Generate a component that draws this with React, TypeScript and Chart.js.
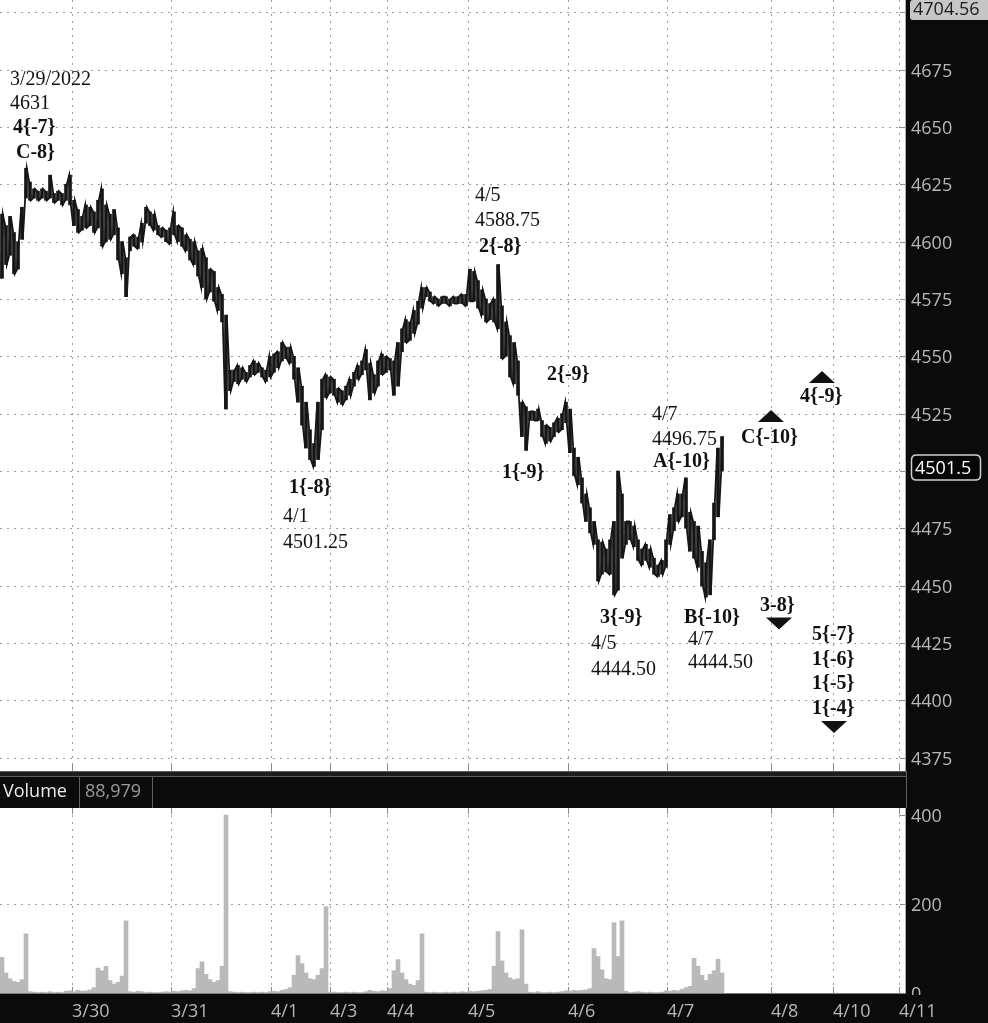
import React, { useEffect, useRef } from 'react';
import { Chart, registerables } from 'chart.js';

Chart.register(...registerables);

// ---- Data (bar index: one slot per sampled bar) ----
const priceHigh = [
  4612, 4607, 4611, 4604, 4600, 4615, 4632, 4626, 4623, 4622,
  4623, 4622, 4629, 4621, 4622, 4621, 4625, 4629, 4618, 4614,
  4611, 4616, 4615, 4613, 4618, 4623, 4616, 4612, 4614, 4606,
  4600, 4593, 4602, 4603, 4602, 4608, 4615, 4613, 4612, 4607,
  4606, 4605, 4606, 4613, 4607, 4606, 4603, 4601, 4600, 4596,
  4597, 4593, 4588, 4587, 4580, 4577, 4568, 4544, 4544, 4546,
  4545, 4543, 4546, 4548, 4547, 4545, 4544, 4550, 4551, 4552,
  4556, 4554, 4554, 4550, 4545, 4537, 4530, 4518, 4512, 4530,
  4540, 4542, 4541, 4540, 4536, 4535, 4537, 4540, 4543, 4546,
  4548, 4553, 4547, 4542, 4548, 4551, 4550, 4549, 4548, 4556,
  4562, 4566, 4565, 4570, 4574, 4580, 4580, 4578, 4576, 4575,
  4576, 4576, 4575, 4576, 4576, 4577, 4577, 4588, 4587, 4583,
  4579, 4575, 4573, 4575, 4590, 4572, 4565, 4559, 4556, 4548,
  4530, 4528, 4526, 4526, 4527, 4522, 4520, 4519, 4521, 4523,
  4525, 4530, 4527, 4510, 4506, 4497, 4490, 4484, 4478, 4470,
  4469, 4466, 4470, 4478, 4500, 4490, 4478, 4478, 4476, 4470,
  4466, 4468, 4466, 4462, 4459, 4461, 4470, 4481, 4484, 4490,
  4490, 4497, 4482, 4478, 4476, 4465, 4460, 4470, 4486, 4510,
  4515,
];

const priceLow = [
  4584, 4590, 4594, 4586, 4588, 4601, 4619, 4618, 4619, 4618,
  4619, 4618, 4619, 4617, 4618, 4616, 4618, 4616, 4607, 4604,
  4605, 4606, 4607, 4604, 4606, 4598, 4600, 4601, 4603, 4592,
  4586, 4576, 4596, 4598, 4597, 4600, 4608, 4607, 4605, 4603,
  4602, 4600, 4599, 4603, 4600, 4598, 4596, 4592, 4590, 4585,
  4580, 4575, 4578, 4574, 4570, 4565, 4527, 4535, 4539, 4538,
  4540, 4539, 4541, 4542, 4543, 4541, 4539, 4541, 4543, 4545,
  4548, 4549, 4547, 4540, 4530, 4520, 4510, 4505, 4502, 4505,
  4518, 4532, 4534, 4533, 4530, 4529, 4531, 4533, 4537, 4540,
  4542, 4544, 4531, 4534, 4537, 4542, 4543, 4544, 4533, 4537,
  4552, 4556, 4557, 4560, 4564, 4571, 4576, 4574, 4573, 4572,
  4573, 4573, 4572, 4573, 4573, 4573, 4572, 4574, 4574, 4571,
  4568, 4565, 4566, 4565, 4562, 4549, 4550, 4541, 4538, 4533,
  4515, 4509, 4522, 4522, 4522, 4515, 4512, 4513, 4515, 4517,
  4518, 4521, 4508, 4498, 4494, 4486, 4478, 4473, 4468, 4452,
  4455, 4456, 4455, 4446, 4448, 4462, 4468, 4470, 4467, 4461,
  4459, 4461, 4458, 4455, 4454, 4455, 4458, 4468, 4474, 4478,
  4480, 4475, 4465, 4462, 4458, 4450, 4445, 4446, 4470, 4480,
  4500,
];

const volume = [
  80, 45, 32, 26, 24, 30, 133, 3, 2, 1,
  2, 1, 3, 1, 2, 1, 4, 5, 3, 6,
  4, 5, 7, 12, 56, 50, 60, 28, 20, 24,
  38, 162, 3, 2, 4, 3, 1, 2, 1, 1,
  2, 3, 2, 4, 3, 5, 6, 5, 10, 55,
  70, 42, 30, 24, 28, 60, 400, 3, 2, 1,
  2, 1, 1, 2, 1, 2, 1, 3, 4, 3,
  6, 8, 12, 40, 84, 66, 45, 32, 30, 40,
  55, 194, 1, 2, 1, 1, 2, 1, 2, 1,
  1, 3, 6, 4, 3, 5, 4, 10, 50, 75,
  45, 30, 20, 17, 28, 133, 2, 1, 2, 1,
  1, 2, 1, 2, 1, 3, 2, 4, 3, 4,
  5, 6, 8, 60, 138, 72, 45, 34, 30, 32,
  142, 20, 2, 1, 3, 1, 1, 2, 1, 2,
  3, 5, 4, 6, 5, 6, 7, 10, 100, 82,
  52, 32, 30, 158, 82, 162, 4, 1, 2, 3,
  2, 1, 2, 1, 1, 2, 5, 4, 6, 5,
  8, 12, 15, 78, 60, 40, 28, 42, 50, 76,
  45,
];

const dayTickPos = [17.5, 42.25, 67.25, 82, 96.25, 116.5, 141.5, 166.25, 192.25, 207.75, 224.25];
const dayTickLabels = ['3/30', '3/31', '4/1', '4/3', '4/4', '4/5', '4/6', '4/7', '4/8', '4/10', '4/11'];
const priceTicks = [4375, 4400, 4425, 4450, 4475, 4500, 4525, 4550, 4575, 4600, 4625, 4650, 4675, 4700];
const volumeTicks = [0, 200, 400];
const topPriceLabel = 4704.56;
const lastPrice = 4501.5;
const volumeTitle = 'Volume';
const volumeTotal = '88,979';

// annotation texts: anchor bar index, price, text, bold
const noteX = [2, 2, 2.75, 3.5, 118.25, 118.25, 119.25, 136.25, 71.75, 70.25, 70.25, 125, 162.5, 162.5, 162.75, 149.5, 147.25, 147.25, 170.5, 171.5, 171.5, 184.75, 199.5, 189.5, 202.5, 202.5, 202.5, 202.5];
const notePrice = [4670.5, 4660.0, 4649.5, 4638.6, 4619.9, 4609.0, 4597.7, 4541.9, 4492.6, 4480.0, 4468.6, 4499.1, 4524.4, 4513.5, 4503.9, 4435.9, 4424.6, 4413.2, 4435.9, 4426.3, 4416.3, 4514.4, 4532.3, 4441.2, 4428.5, 4417.6, 4407.1, 4396.2];
const noteText = ['3/29/2022', '4631', '4{-7}', 'C-8}', '4/5', '4588.75', '2{-8}', '2{-9}', '1{-8}', '4/1', '4501.25', '1{-9}', '4/7', '4496.75', 'A{-10}', '3{-9}', '4/5', '4444.50', 'B{-10}', '4/7', '4444.50', 'C{-10}', '4{-9}', '3-8}', '5{-7}', '1{-6}', '1{-5}', '1{-4}'];
const noteBold = [false, false, true, true, false, false, true, true, true, false, false, true, false, false, true, true, false, false, true, false, false, true, true, true, true, true, true, true];

// triangle markers
const markerX = [192.25, 205, 194.25, 208];
const markerPrice = [4524, 4541, 4433.5, 4388.4];
const markerUp = [true, true, false, false];

// ---- axis ranges ----
const X_MIN = -0.5;
const X_MAX = 225.75;
const P_MIN = 4369.2;
const P_MAX = 4705.35;
const V_MAX = 415.7;

const AXIS_FONT = "'Open Sans', 'Noto Sans', sans-serif";
const SERIF = "'Liberation Serif', 'DejaVu Serif', serif";
const INK = '#161616';

function hline(ctx: CanvasRenderingContext2D, x1: number, x2: number, y: number) {
  ctx.beginPath();
  ctx.moveTo(x1, y);
  ctx.lineTo(x2, y);
  ctx.stroke();
}
function vline(ctx: CanvasRenderingContext2D, x: number, y1: number, y2: number) {
  ctx.beginPath();
  ctx.moveTo(x, y1);
  ctx.lineTo(x, y2);
  ctx.stroke();
}
function roundRect(ctx: CanvasRenderingContext2D, x: number, y: number, w: number, h: number, r: number) {
  ctx.beginPath();
  ctx.moveTo(x + r, y);
  ctx.lineTo(x + w - r, y);
  ctx.quadraticCurveTo(x + w, y, x + w, y + r);
  ctx.lineTo(x + w, y + h - r);
  ctx.quadraticCurveTo(x + w, y + h, x + w - r, y + h);
  ctx.lineTo(x + r, y + h);
  ctx.quadraticCurveTo(x, y + h, x, y + h - r);
  ctx.lineTo(x, y + r);
  ctx.quadraticCurveTo(x, y, x + r, y);
  ctx.closePath();
}

const pricePanelPlugin = {
  id: 'pricePanel',
  beforeDraw(chart: any) {
    const { ctx, chartArea: a, width, height } = chart;
    const xs = chart.scales.x;
    const ys = chart.scales.y;
    ctx.save();
    ctx.fillStyle = '#0b0b0b';
    ctx.fillRect(0, 0, width, height);
    ctx.fillStyle = '#ffffff';
    ctx.fillRect(a.left, a.top, a.right - a.left, a.bottom - a.top);
    ctx.strokeStyle = '#9c9c9c';
    ctx.lineWidth = 1;
    ctx.setLineDash([2, 5]);
    priceTicks.forEach((v) => {
      const py = Math.round(ys.getPixelForValue(v)) + 0.5;
      if (py < a.top || py > a.bottom) return;
      hline(ctx, a.left, a.right, py);
    });
    dayTickPos.forEach((v) => {
      const px = Math.round(xs.getPixelForValue(v)) + 0.5;
      vline(ctx, px, a.top, a.bottom);
    });
    ctx.setLineDash([]);
    ctx.strokeStyle = '#8a8a8a';
    priceTicks.forEach((v) => {
      const py = Math.round(ys.getPixelForValue(v)) + 0.5;
      if (py < a.top || py > a.bottom) return;
      hline(ctx, a.right - 5, a.right, py);
    });
    dayTickPos.forEach((v) => {
      const px = Math.round(xs.getPixelForValue(v)) + 0.5;
      vline(ctx, px, a.bottom - 7, a.bottom);
    });
    ctx.strokeStyle = '#b0b0b0';
    vline(ctx, a.right + 0.5, a.top, a.bottom);
    ctx.restore();
  },
  afterDraw(chart: any) {
    const { ctx, chartArea: a } = chart;
    const xs = chart.scales.x;
    const ys = chart.scales.y;
    ctx.save();
    ctx.fillStyle = '#111111';
    ctx.textAlign = 'left';
    ctx.textBaseline = 'middle';
    noteText.forEach((t, i) => {
      ctx.font = (noteBold[i] ? 'bold ' : '') + '20px ' + SERIF;
      ctx.fillText(t, xs.getPixelForValue(noteX[i]), ys.getPixelForValue(notePrice[i]));
    });
    markerX.forEach((mx, i) => {
      const cx = xs.getPixelForValue(mx);
      const cy = ys.getPixelForValue(markerPrice[i]);
      ctx.beginPath();
      if (markerUp[i]) {
        ctx.moveTo(cx, cy - 6);
        ctx.lineTo(cx + 13, cy + 6);
        ctx.lineTo(cx - 13, cy + 6);
      } else {
        ctx.moveTo(cx, cy + 6);
        ctx.lineTo(cx + 13, cy - 6);
        ctx.lineTo(cx - 13, cy - 6);
      }
      ctx.closePath();
      ctx.fill();
    });
    const ty = Math.max(ys.getPixelForValue(topPriceLabel), 10);
    roundRect(ctx, a.right + 5, ty - 10, 83, 20, 3);
    ctx.fillStyle = '#c6c6c6';
    ctx.fill();
    ctx.fillStyle = '#1c1c1c';
    ctx.font = '18px ' + AXIS_FONT;
    ctx.fillText(topPriceLabel.toFixed(2), a.right + 8, ty);
    const ly = ys.getPixelForValue(lastPrice);
    roundRect(ctx, a.right + 6.5, ly - 12.5, 69, 25, 5);
    ctx.fillStyle = '#050505';
    ctx.fill();
    ctx.strokeStyle = '#cfcfcf';
    ctx.lineWidth = 1.5;
    ctx.stroke();
    ctx.fillStyle = '#ffffff';
    ctx.fillText(String(lastPrice), a.right + 10, ly + 1);
    ctx.restore();
  },
};

const volumePanelPlugin = {
  id: 'volumePanel',
  beforeDraw(chart: any) {
    const { ctx, chartArea: a, width, height } = chart;
    const xs = chart.scales.x;
    const ys = chart.scales.y;
    ctx.save();
    ctx.fillStyle = '#0b0b0b';
    ctx.fillRect(0, 0, width, height);
    ctx.fillStyle = '#1c1c1c';
    ctx.fillRect(0, 1, a.right + 1, 5);
    ctx.fillStyle = '#ffffff';
    ctx.fillRect(a.left, a.top, a.right - a.left, a.bottom - a.top);
    ctx.strokeStyle = '#5e5e5e';
    ctx.lineWidth = 1;
    hline(ctx, 0, a.right + 1, 0.5);
    hline(ctx, 0, a.right + 1, 5.5);
    vline(ctx, 79.5, 6, a.top);
    vline(ctx, 152.5, 6, a.top);
    vline(ctx, a.right + 1.5, 0, a.top);
    ctx.font = '18px ' + AXIS_FONT;
    ctx.textBaseline = 'middle';
    ctx.textAlign = 'left';
    ctx.fillStyle = '#ececec';
    ctx.fillText(volumeTitle, 3, 21);
    ctx.fillStyle = '#9a9a9a';
    ctx.fillText(volumeTotal, 85, 21);
    ctx.strokeStyle = '#9c9c9c';
    ctx.setLineDash([2, 5]);
    const gy = Math.round(ys.getPixelForValue(200)) + 0.5;
    hline(ctx, a.left, a.right, gy);
    dayTickPos.forEach((v) => {
      const px = Math.round(xs.getPixelForValue(v)) + 0.5;
      vline(ctx, px, a.top, a.bottom);
    });
    ctx.setLineDash([]);
    ctx.strokeStyle = '#8a8a8a';
    dayTickPos.forEach((v) => {
      const px = Math.round(xs.getPixelForValue(v)) + 0.5;
      vline(ctx, px, a.top, a.top + 6);
      vline(ctx, px, a.bottom - 6, a.bottom);
    });
    volumeTicks.forEach((v) => {
      const py = Math.round(ys.getPixelForValue(v)) + 0.5;
      if (v > 0) hline(ctx, a.right - 5, a.right, py);
    });
    ctx.strokeStyle = '#b0b0b0';
    vline(ctx, a.right + 0.5, a.top, a.bottom + 1);
    ctx.strokeStyle = '#7a7a7a';
    hline(ctx, 0, a.right + 1, a.bottom + 0.5);
    ctx.restore();
  },
  afterDraw(chart: any) {
    const { ctx, chartArea: a } = chart;
    const ys = chart.scales.y;
    ctx.save();
    ctx.beginPath();
    ctx.rect(a.right, 0, 200, a.bottom + 2);
    ctx.clip();
    ctx.font = '18px ' + AXIS_FONT;
    ctx.fillStyle = '#b8b8b8';
    ctx.textAlign = 'left';
    ctx.textBaseline = 'middle';
    ctx.fillText('0', a.right + 6, ys.getPixelForValue(0) + 2);
    ctx.restore();
  },
};

export default function App() {
  const priceRef = useRef<HTMLCanvasElement>(null);
  const volRef = useRef<HTMLCanvasElement>(null);

  useEffect(() => {
    document.body.style.margin = '0';
    // each bar's range traced as a stroke, alternating direction (dense bar-chart look)
    const pricePath = priceHigh.flatMap((h, i) => {
      const l = priceLow[i];
      return i % 2 === 0
        ? [{ x: i - 0.2, y: l }, { x: i + 0.2, y: h }]
        : [{ x: i - 0.2, y: h }, { x: i + 0.2, y: l }];
    });
    const priceBars = priceHigh.map((h, i) => ({ x: i, y: [priceLow[i], h] }));
    const volBars = volume.map((v, i) => ({ x: i, y: v }));

    const priceChart = new Chart(priceRef.current as HTMLCanvasElement, {
      type: 'bar',
      data: {
        datasets: [
          {
            type: 'line',
            data: pricePath as any,
            borderColor: INK,
            borderWidth: 1.8,
            pointRadius: 0,
            tension: 0,
            fill: false,
            borderJoinStyle: 'miter',
          } as any,
          {
            type: 'bar',
            data: priceBars as any,
            backgroundColor: INK,
            borderWidth: 0,
            barThickness: 3,
            grouped: false,
          } as any,
        ],
      },
      options: {
        animation: false,
        responsive: false,
        maintainAspectRatio: false,
        layout: { padding: 0 },
        plugins: { legend: { display: false }, tooltip: { enabled: false } },
        scales: {
          x: { type: 'linear', min: X_MIN, max: X_MAX, offset: false, display: false, grid: { offset: false } },
          y: {
            type: 'linear',
            position: 'right',
            min: P_MIN,
            max: P_MAX,
            afterBuildTicks: (s: any) => {
              s.ticks = priceTicks.map((v) => ({ value: v }));
            },
            afterFit: (s: any) => {
              s.width = 83;
              s.paddingTop = 0;
              s.paddingBottom = 0;
            },
            grid: { display: false, drawTicks: false },
            border: { display: false },
            ticks: {
              color: '#b8b8b8',
              font: { family: AXIS_FONT, size: 18 },
              padding: 6,
              labelOffset: 2,
              autoSkip: false,
              callback: (v: any) => (v === 4700 || v === 4500 ? '' : String(v)),
            },
          },
        },
      } as any,
      plugins: [pricePanelPlugin],
    });

    const volChart = new Chart(volRef.current as HTMLCanvasElement, {
      type: 'bar',
      data: {
        datasets: [
          {
            data: volBars as any,
            backgroundColor: '#b9b9b9',
            borderWidth: 0,
            barPercentage: 1,
            categoryPercentage: 1,
          } as any,
        ],
      },
      options: {
        animation: false,
        responsive: false,
        maintainAspectRatio: false,
        layout: { padding: { top: 37, left: 0, right: 0, bottom: 0 } },
        plugins: { legend: { display: false }, tooltip: { enabled: false } },
        scales: {
          x: {
            type: 'linear',
            min: X_MIN,
            max: X_MAX,
            offset: false,
            afterBuildTicks: (s: any) => {
              s.ticks = dayTickPos.map((v) => ({ value: v }));
            },
            afterFit: (s: any) => {
              s.height = 30;
              s.paddingLeft = 0;
              s.paddingRight = 0;
            },
            grid: { display: false, drawTicks: false, offset: false },
            border: { display: false },
            ticks: {
              color: '#b8b8b8',
              font: { family: AXIS_FONT, size: 18 },
              align: 'start',
              padding: 8,
              maxRotation: 0,
              autoSkip: false,
              callback: (_v: any, idx: number) => dayTickLabels[idx],
            },
          },
          y: {
            type: 'linear',
            position: 'right',
            min: 0,
            max: V_MAX,
            afterBuildTicks: (s: any) => {
              s.ticks = volumeTicks.map((v) => ({ value: v }));
            },
            afterFit: (s: any) => {
              s.width = 83;
              s.paddingTop = 0;
              s.paddingBottom = 0;
            },
            grid: { display: false, drawTicks: false },
            border: { display: false },
            ticks: {
              color: '#b8b8b8',
              font: { family: AXIS_FONT, size: 18 },
              padding: 6,
              labelOffset: 2,
              autoSkip: false,
              callback: (v: any) => (v === 0 ? '' : String(v)),
            },
          },
        },
      } as any,
      plugins: [volumePanelPlugin],
    });

    return () => {
      priceChart.destroy();
      volChart.destroy();
    };
  }, []);

  return (
    <div
      style={{
        position: 'absolute',
        left: 0,
        top: 0,
        width: 988,
        height: 1023,
        background: '#0b0b0b',
        overflow: 'hidden',
      }}
    >
      <canvas
        ref={priceRef}
        width={988}
        height={771}
        style={{ position: 'absolute', left: 0, top: 0, width: 988, height: 771 }}
      />
      <canvas
        ref={volRef}
        width={988}
        height={252}
        style={{ position: 'absolute', left: 0, top: 771, width: 988, height: 252 }}
      />
    </div>
  );
}
